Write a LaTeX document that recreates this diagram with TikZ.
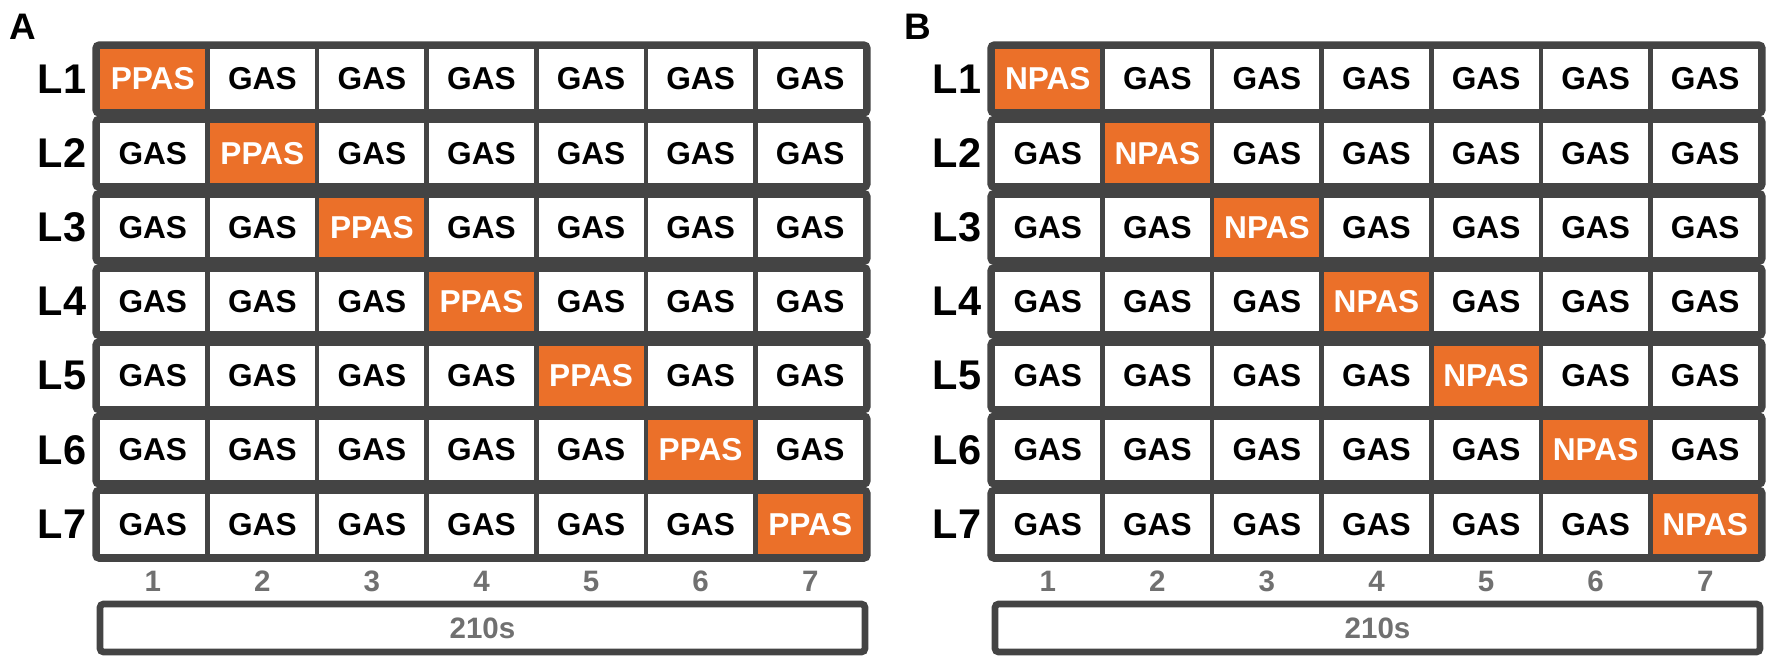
\documentclass[tikz,border=0pt]{standalone}
\usepackage{fontspec}
\setmainfont{Liberation Sans}
\usetikzlibrary{positioning, fit}
\definecolor{stimOrange}{HTML}{EB7029}
\definecolor{frameGray}{HTML}{444444}
\definecolor{labelGray}{HTML}{707070}
\tikzstyle{cell} =[draw=frameGray, line width=1.3pt, minimum width=1.0957cm, minimum height=0.64cm, inner sep=0pt, font=\fontsize{9}{10}\selectfont\bfseries]
\tikzstyle{stim} =[cell, fill=stimOrange, text=white]
\tikzstyle{rowframe} =[draw=frameGray, line width=1.9pt, rounded corners=1pt, inner sep=0pt]
\tikzstyle{lane} =[inner sep=0pt, font=\fontsize{11.8}{13}\selectfont\bfseries]
\tikzstyle{slot} =[inner sep=0pt, text=labelGray, font=\fontsize{8.4}{10}\selectfont\bfseries]

\begin{document}
\begin{tikzpicture}
\useasboundingbox (0,0) rectangle (17.75,-6.58);

\foreach \p/\dx/\stimname in {A/0/PPAS, B/8.95/NPAS} {
  \node (panel\p) [inner sep=0pt, font=\fontsize{10.5}{12}\selectfont\bfseries] at (\dx+0.23, -0.265) {\p};

  \foreach \r in {1,...,7} {
    \node (\p-L\r) [lane] at (\dx+0.62, {-0.79-(\r-1)*0.742}) {L\r};
    \foreach \c in {1,...,7} {
      \ifnum\c=\r
        \node (\p-\r-\c) [stim] at ({\dx+0.98+(\c-0.5)*1.0957}, {-0.79-(\r-1)*0.742}) {\stimname};
      \else
        \node (\p-\r-\c) [cell] at ({\dx+0.98+(\c-0.5)*1.0957}, {-0.79-(\r-1)*0.742}) {GAS};
      \fi
    }
    \node (\p-row\r) [rowframe, fit=(\p-\r-1) (\p-\r-7)] {};
  }

  % trial numbers under the last row
  \foreach \c in {1,...,7}
    \node (\p-n\c) [slot] at ({\dx+0.98+(\c-0.5)*1.0957}, -5.81) {\c};

  \node (\p-time) [rowframe, minimum width=7.65cm, minimum height=0.48cm, text=labelGray, font=\fontsize{8.4}{10}\selectfont\bfseries] at (\dx+4.825, -6.28) {210s};
}

\end{tikzpicture}
\end{document}
